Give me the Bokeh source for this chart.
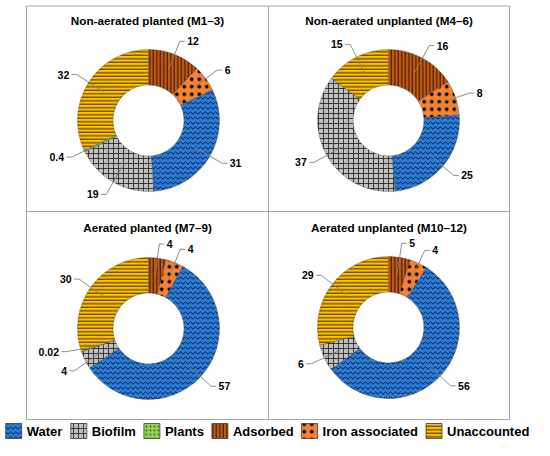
import numpy as np
from bokeh.plotting import figure
from bokeh.models import ColumnDataSource, Range1d
from bokeh.core.properties import value
from bokeh.embed import file_html
from bokeh.resources import INLINE

# ---------------- data ----------------
categories = ["Water", "Biofilm", "Plants", "Adsorbed", "Iron associated", "Unaccounted"]
slice_order = ["Adsorbed", "Iron associated", "Water", "Biofilm", "Plants", "Unaccounted"]
titles = ["Non-aerated planted (M1\u20133)", "Non-aerated unplanted (M4\u20136)",
          "Aerated planted (M7\u20139)", "Aerated unplanted (M10\u201312)"]
m1_3 = [12, 6, 31, 19, 0.4, 32]
m4_6 = [16, 8, 25, 37, 0, 15]
m7_9 = [4, 4, 57, 4, 0.02, 30]
m10_12 = [5, 4, 56, 6, 0, 29]
panels = [m1_3, m4_6, m7_9, m10_12]

# ---------------- styles ----------------
STYLE = {
    "Water": dict(fill="#2A7AD8", hatch="horizontal_wave", hc="#0A1A33", hs=5, hw=1.0),
    "Biofilm": dict(fill="#BFBFBF", hatch="cross", hc="#1A1A1A", hs=5, hw=0.8),
    "Plants": dict(fill="#92D050", hatch="dot", hc="#3C7A1A", hs=4, hw=1.0),
    "Adsorbed": dict(fill="#C55A11", hatch="vertical_line", hc="#000000", hs=3.5, hw=0.8),
    "Iron associated": dict(fill="#F58230", hatch="dot", hc="#000000", hs=7.5, hw=3.0),
    "Unaccounted": dict(fill="#FFC000", hatch="horizontal_line", hc="#000000", hs=3.5, hw=0.8),
}
FONT = value("Liberation Sans")
W, H = 534, 440


def dx(sx):
    return sx


def dy(sy):
    return H - sy


p = figure(width=W, height=H, x_range=Range1d(0, W), y_range=Range1d(0, H),
           output_backend="svg", toolbar_location=None, min_border=0,
           x_axis_type=None, y_axis_type=None, outline_line_color=None)
p.grid.visible = False

# panel frame (screen coords)
XL, XM, XR = 26, 268, 509
YT, YM, YB = 5.5, 211, 419
frame_xs = [[dx(XL), dx(XR), dx(XR), dx(XL), dx(XL)], [dx(XM), dx(XM)], [dx(XL), dx(XR)]]
frame_ys = [[dy(YT), dy(YT), dy(YB), dy(YB), dy(YT)], [dy(YT), dy(YB)], [dy(YM), dy(YM)]]
p.multi_line(frame_xs, frame_ys, line_color="#A6A6A6", line_width=1)

centers = [(148, 120), (388, 120), (148, 328), (388, 327)]
title_pos = [((XL + XM) / 2, 19.5), ((XM + XR) / 2, 19.5),
             ((XL + XM) / 2, 227), ((XM + XR) / 2, 227)]
R = 71.0
RIN = 35.5
MIN_SEP = 14.0

wedge = dict(x=[], y=[], s=[], e=[], fill=[], hatch=[], hc=[], hs=[], hw=[])
lab = dict(x=[], y=[], t=[], align=[])
lxs, lys = [], []

for k, vals in enumerate(panels):
    scx, scy = centers[k]
    cx, cy = dx(scx), dy(scy)
    tot = float(sum(vals))
    cum = np.concatenate([[0.0], np.cumsum(vals)])
    mids = []
    for i, cat in enumerate(slice_order):
        a0, a1 = cum[i] / tot, cum[i + 1] / tot
        mids.append((a0 + a1) / 2 * 360.0)
        if vals[i] <= 0:
            continue
        st = STYLE[cat]
        wedge["x"].append(cx); wedge["y"].append(cy)
        wedge["s"].append(np.pi / 2 - 2 * np.pi * a0)
        wedge["e"].append(np.pi / 2 - 2 * np.pi * a1)
        wedge["fill"].append(st["fill"]); wedge["hatch"].append(st["hatch"])
        wedge["hc"].append(st["hc"]); wedge["hs"].append(st["hs"]); wedge["hw"].append(st["hw"])
    idx = [i for i, v in enumerate(vals) if v > 0]
    ang = {i: mids[i] for i in idx}
    for _ in range(30):
        for a, b in zip(idx, idx[1:]):
            d = ang[b] - ang[a]
            if d < MIN_SEP:
                push = (MIN_SEP - d) / 2
                ang[a] -= push
                ang[b] += push
    for i in idx:
        tm = np.radians(mids[i])
        ta = np.radians(ang[i])
        rs = (R + RIN) / 2
        x0, y0 = cx + rs * np.sin(tm), cy + rs * np.cos(tm)
        re = 1.2 * R
        x1, y1 = cx + re * np.sin(ta), cy + re * np.cos(ta)
        side = 1 if np.sin(ta) >= -1e-9 else -1
        x2 = x1 + side * 5
        lxs.append([x0, x1, x2]); lys.append([y0, y1, y1])
        lab["x"].append(x2 + side * 2.5); lab["y"].append(y1)
        lab["t"].append(f"{vals[i]:g}")
        lab["align"].append("left" if side > 0 else "right")

p.annular_wedge(x="x", y="y", inner_radius=RIN, outer_radius=R, start_angle="s", end_angle="e",
                direction="clock", source=ColumnDataSource(wedge),
                fill_color="fill", hatch_pattern="hatch", hatch_color="hc",
                hatch_scale="hs", hatch_weight="hw", line_color="#505050", line_width=0.4)
p.multi_line(lxs, lys, line_color="#808080", line_width=0.9)
p.text(x="x", y="y", text="t", text_align="align", source=ColumnDataSource(lab),
       text_baseline="middle", text_font=FONT, text_font_style="bold",
       text_font_size="10.5px", text_color="#000000")

# titles
p.text(x=[dx(t[0]) for t in title_pos], y=[dy(t[1]) for t in title_pos], text=titles,
       text_align="center", text_baseline="middle", text_font=FONT,
       text_font_style="bold", text_font_size="11.7px", text_color="#000000")

# legend
text_w = {"Water": 36.1, "Biofilm": 44.1, "Plants": 39.0, "Adsorbed": 60.7,
          "Iron associated": 95.4, "Unaccounted": 82.3}
PATCH, GAP1, GAP2 = 16, 5, 8
total = sum(text_w[c] for c in categories) + len(categories) * (PATCH + GAP1) + (len(categories) - 1) * GAP2
sx = (W - total) / 2
ly = 430.5
leg = dict(x=[], fill=[], hatch=[], hc=[], hs=[], hw=[])
leg_t = dict(x=[], t=[])
for c in categories:
    st = STYLE[c]
    leg["x"].append(dx(sx + PATCH / 2)); leg["fill"].append(st["fill"])
    leg["hatch"].append(st["hatch"]); leg["hc"].append(st["hc"])
    leg["hs"].append(st["hs"]); leg["hw"].append(st["hw"])
    leg_t["x"].append(dx(sx + PATCH + GAP1)); leg_t["t"].append(c)
    sx += PATCH + GAP1 + text_w[c] + GAP2
leg["y"] = [dy(ly)] * len(categories)
leg_t["y"] = [dy(ly)] * len(categories)
p.rect(x="x", y="y", width=PATCH, height=15, source=ColumnDataSource(leg),
       fill_color="fill", hatch_pattern="hatch", hatch_color="hc", hatch_scale="hs",
       hatch_weight="hw", line_color="#404040", line_width=0.8)
p.text(x="x", y="y", text="t", source=ColumnDataSource(leg_t), text_align="left",
       text_baseline="middle", text_font=FONT, text_font_style="bold",
       text_font_size="13px", text_color="#000000")

open("out.html", "w").write(file_html(p, INLINE))
